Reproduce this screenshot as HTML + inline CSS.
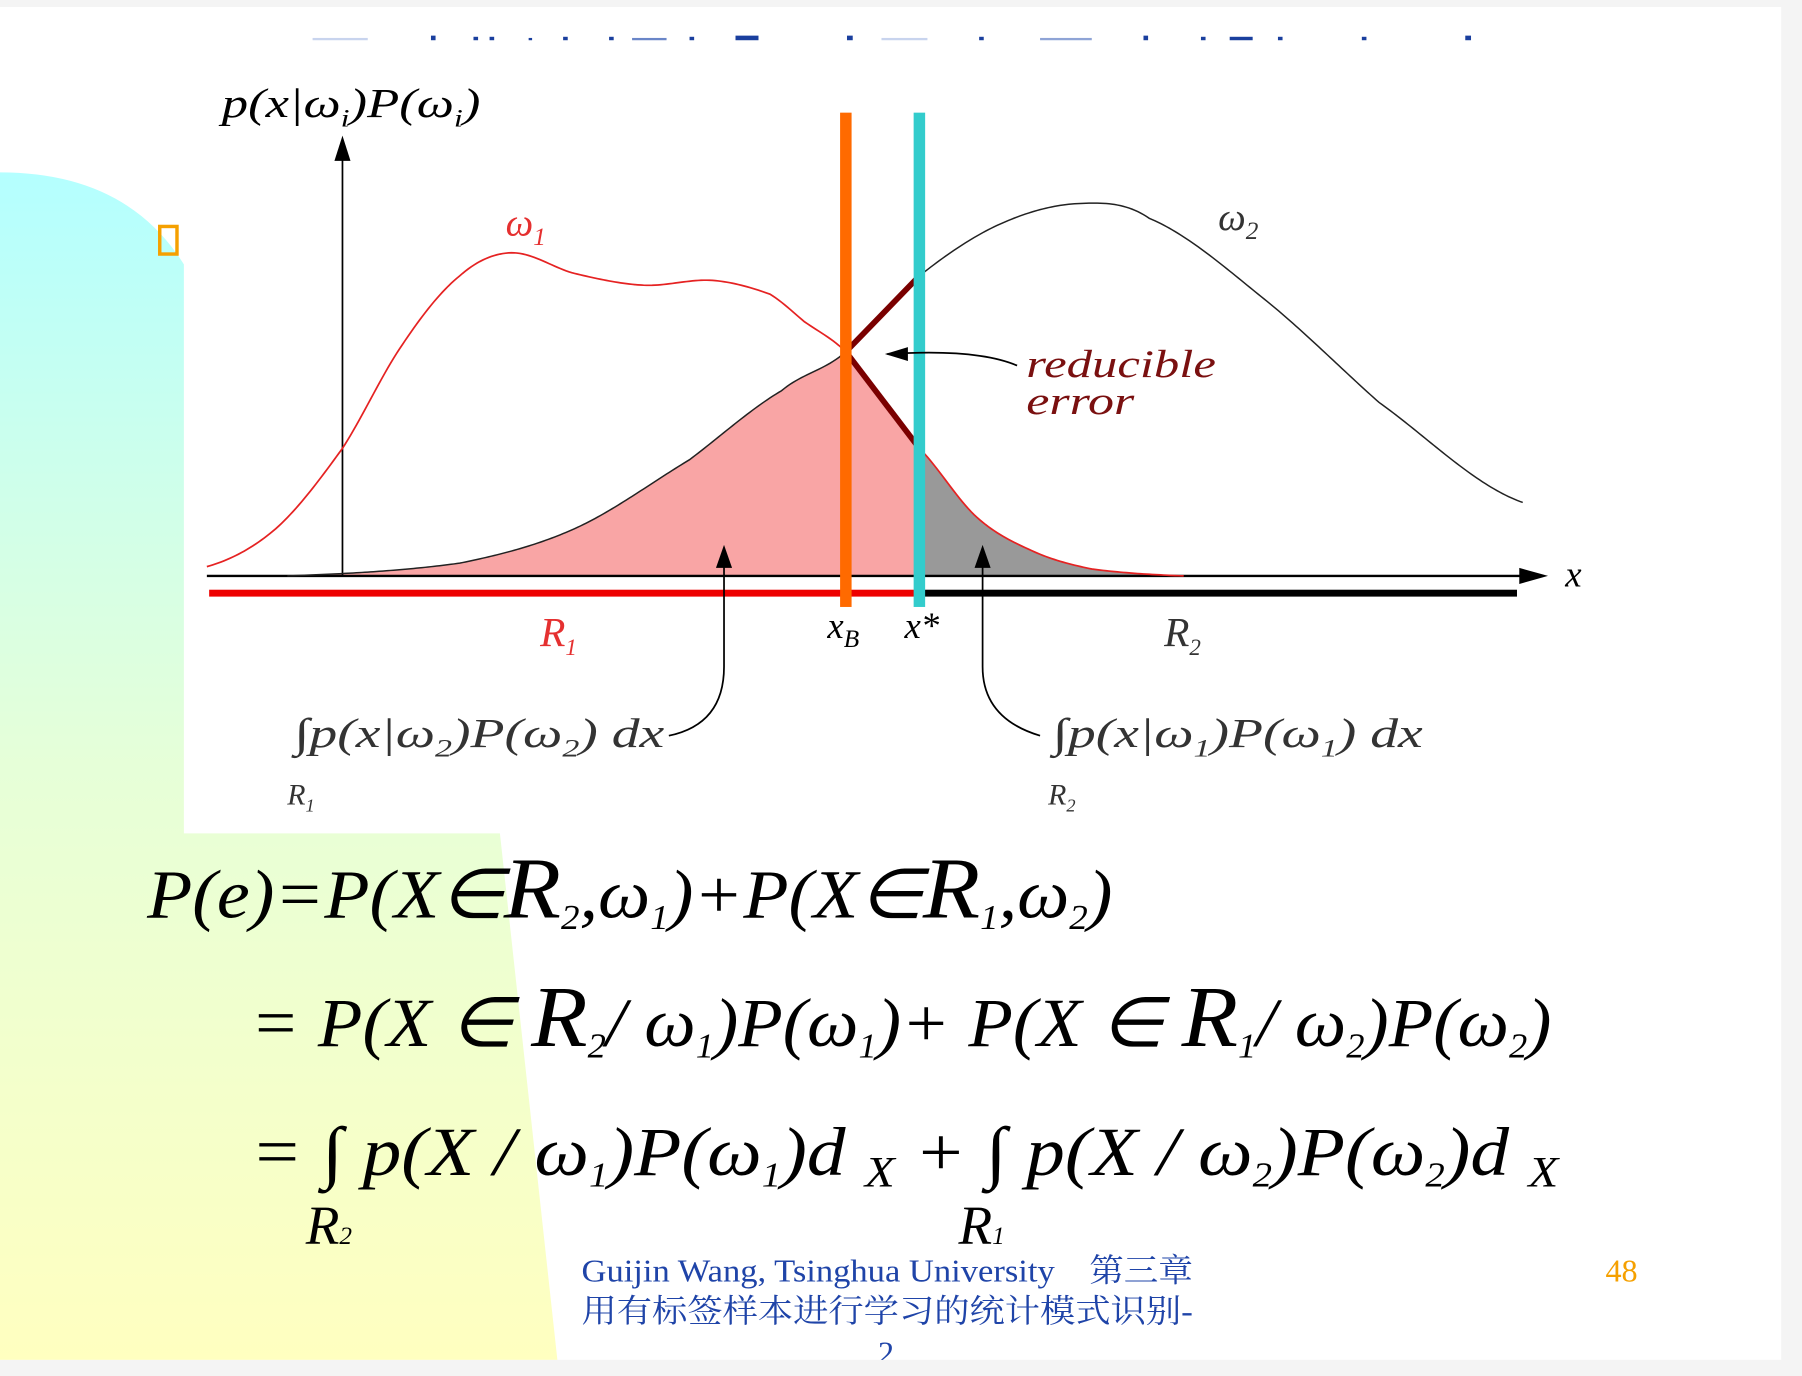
<!DOCTYPE html>
<html><head><meta charset="utf-8"><style>
html,body{margin:0;padding:0;background:#f4f4f4;}
svg{display:block;}
.m{font-family:"Liberation Serif",serif;font-style:italic;}
</style></head><body>
<svg width="1802" height="1376" viewBox="0 0 1568 1197" preserveAspectRatio="none" xmlns="http://www.w3.org/2000/svg">
<defs>
<linearGradient id="bg" x1="0" y1="0" x2="0" y2="1">
<stop offset="0" stop-color="#b4ffff"/><stop offset="0.5" stop-color="#e6ffd8"/><stop offset="1" stop-color="#ffffc0"/>
</linearGradient>
</defs>
<rect x="0" y="6" width="1550" height="1177" fill="#fff"/>
<path d="M0 150 Q110 150 160 230 L160 725 L435 725 L485 1183 L0 1183 Z" fill="url(#bg)"/>
<g fill="#1a3f9e">
<rect x="272" y="33" width="48" height="2" fill="#c8d4ee"/><rect x="375" y="31" width="4" height="4"/><rect x="412" y="32" width="4" height="3"/><rect x="426" y="32" width="4" height="3"/><rect x="460" y="33" width="3" height="2"/><rect x="490" y="32" width="4" height="3"/><rect x="530" y="32" width="4" height="3"/><rect x="550" y="33" width="30" height="2" fill="#6a86c8"/><rect x="600" y="32" width="4" height="3"/><rect x="640" y="31" width="20" height="4"/><rect x="737" y="31" width="5" height="4"/><rect x="767" y="33" width="40" height="2" fill="#c8d4ee"/><rect x="852" y="32" width="4" height="3"/><rect x="905" y="33" width="45" height="2" fill="#8fa4d6"/><rect x="995" y="31" width="4" height="4"/><rect x="1045" y="32" width="4" height="3"/><rect x="1070" y="32" width="20" height="3"/><rect x="1112" y="32" width="4" height="3"/><rect x="1185" y="32" width="4" height="3"/><rect x="1275" y="31" width="5" height="4"/>
</g>
<rect x="139" y="197" width="15" height="24" fill="none" stroke="#f5a000" stroke-width="3"/>
<g id="chart"></g>
<text class="m" x="193" y="102" font-size="36" textLength="225" lengthAdjust="spacingAndGlyphs">p(x|ω<tspan font-size="22" dy="8">i</tspan><tspan dy="-8">)P(ω</tspan><tspan font-size="22" dy="8">i</tspan><tspan dy="-8">)</tspan></text>
<text class="m" x="440" y="205" font-size="34" fill="#e53030">ω<tspan font-size="22" dy="8">1</tspan></text>
<text class="m" x="1060" y="200" font-size="34" fill="#333">ω<tspan font-size="22" dy="8">2</tspan></text>
<text class="m" x="893" y="328" font-size="34" fill="#7a1010" textLength="165" lengthAdjust="spacingAndGlyphs">reducible</text>
<text class="m" x="893" y="360" font-size="34" fill="#7a1010" textLength="94" lengthAdjust="spacingAndGlyphs">error</text>
<path d="M885 318 Q850 303 772 308" fill="none" stroke="#000" stroke-width="1.5"/>
<path d="M770 308 L790 302 L790 314 Z" fill="#000"/>
<text class="m" x="1362" y="510" font-size="32">x</text>
<text class="m" x="720" y="555" font-size="32">x<tspan font-size="22" dy="8">B</tspan></text>
<text class="m" x="787" y="555" font-size="32">x*</text>
<text class="m" x="470" y="562" font-size="36" fill="#e53030">R<tspan font-size="20" dy="8">1</tspan></text>
<text class="m" x="1013" y="562" font-size="36" fill="#333">R<tspan font-size="20" dy="8">2</tspan></text>
<text class="m" x="256" y="650" font-size="36" fill="#333" textLength="322" lengthAdjust="spacingAndGlyphs">∫p(x|ω<tspan font-size="22" dy="8">2</tspan><tspan dy="-8">)P(ω</tspan><tspan font-size="22" dy="8">2</tspan><tspan dy="-8">) dx</tspan></text>
<text class="m" x="250" y="700" font-size="26" fill="#333">R<tspan font-size="16" dy="6">1</tspan></text>
<text class="m" x="916" y="650" font-size="36" fill="#333" textLength="322" lengthAdjust="spacingAndGlyphs">∫p(x|ω<tspan font-size="22" dy="8">1</tspan><tspan dy="-8">)P(ω</tspan><tspan font-size="22" dy="8">1</tspan><tspan dy="-8">) dx</tspan></text>
<text class="m" x="912" y="700" font-size="26" fill="#333">R<tspan font-size="16" dy="6">2</tspan></text>
<path d="M582 640 Q630 630 630 580 L630 490" fill="none" stroke="#000" stroke-width="1.5"/>
<path d="M630 474 L623 494 L637 494 Z" fill="#000"/>
<path d="M905 640 Q855 625 855 580 L855 490" fill="none" stroke="#000" stroke-width="1.5"/>
<path d="M855 474 L848 494 L862 494 Z" fill="#000"/>
<g class="m" font-size="60">
<text x="128" y="798" textLength="840" lengthAdjust="spacingAndGlyphs">P(e)=P(X∈<tspan font-size="76">R</tspan><tspan font-size="30" dy="10">2</tspan><tspan dy="-10">,ω</tspan><tspan font-size="30" dy="10">1</tspan><tspan dy="-10">)+P(X∈</tspan><tspan font-size="76">R</tspan><tspan font-size="30" dy="10">1</tspan><tspan dy="-10">,ω</tspan><tspan font-size="30" dy="10">2</tspan><tspan dy="-10">)</tspan></text>
<text x="218" y="910" textLength="1132" lengthAdjust="spacingAndGlyphs">= P(X ∈ <tspan font-size="76">R</tspan><tspan font-size="30" dy="10">2</tspan><tspan dy="-10">/ ω</tspan><tspan font-size="30" dy="10">1</tspan><tspan dy="-10">)P(ω</tspan><tspan font-size="30" dy="10">1</tspan><tspan dy="-10">)+ P(X ∈ </tspan><tspan font-size="76">R</tspan><tspan font-size="30" dy="10">1</tspan><tspan dy="-10">/ ω</tspan><tspan font-size="30" dy="10">2</tspan><tspan dy="-10">)P(ω</tspan><tspan font-size="30" dy="10">2</tspan><tspan dy="-10">)</tspan></text>
<text x="218" y="1022" textLength="1138" lengthAdjust="spacingAndGlyphs">= ∫ p(X / ω<tspan font-size="30" dy="10">1</tspan><tspan dy="-10">)P(ω</tspan><tspan font-size="30" dy="10">1</tspan><tspan dy="-10">)d </tspan><tspan font-size="38" dy="10">X</tspan><tspan dy="-10"> + ∫ p(X / ω</tspan><tspan font-size="30" dy="10">2</tspan><tspan dy="-10">)P(ω</tspan><tspan font-size="30" dy="10">2</tspan><tspan dy="-10">)d </tspan><tspan font-size="38" dy="10">X</tspan></text>
<text x="266" y="1082" font-size="48">R<tspan font-size="22">2</tspan></text>
<text x="834" y="1082" font-size="48">R<tspan font-size="22">1</tspan></text>
</g>
<g font-family="'Liberation Serif','Noto Serif CJK SC',serif" fill="#1f44a8" font-size="28">
<text x="506" y="1115" textLength="532" lengthAdjust="spacingAndGlyphs">Guijin Wang, Tsinghua University　第三章</text>
<text x="506" y="1150" textLength="532" lengthAdjust="spacingAndGlyphs">用有标签样本进行学习的统计模式识别-</text>
<text x="764" y="1186">2</text>
</g>
<text x="1397" y="1115" font-family="'Liberation Serif',serif" font-size="28" fill="#f5a000">48</text>
<rect x="0" y="1183" width="1568" height="14" fill="#f4f4f4"/>
<rect x="1550" y="0" width="18" height="1197" fill="#f4f4f4"/>
<rect x="0" y="0" width="1568" height="6" fill="#f4f4f4"/>
</svg>
<script>
const w1X=[0,6,11.8,17,22,26.5,32,38,44,49,52,55.6,59,62,67,72,77,85];
const w1Y=[2.7,13.7,37,67,87,93.7,87.7,84.3,85.7,81.7,73.7,65,50.3,37,17,7,2,0];
const w2X=[7,22,32,42,50,55.6,62,69,76,82,92,102,114.5];
const w2Y=[0,3.7,13.7,33.7,53.7,65,87,102,108,103.7,80.3,50.3,21.3];
const xB=55.6, xStar=62;
const sx=v=>180+v*10, sy=v=>501-v*3;
const NS="http://www.w3.org/2000/svg";
const g=document.getElementById('chart');
function interp(xs,ys,x){
  if(x<=xs[0])return ys[0]; if(x>=xs[xs.length-1])return ys[ys.length-1];
  let i=0;while(xs[i+1]<x)i++;
  const p0=ys[Math.max(i-1,0)],p1=ys[i],p2=ys[i+1],p3=ys[Math.min(i+2,ys.length-1)];
  const t=(x-xs[i])/(xs[i+1]-xs[i]);
  return Math.max(0,0.5*((2*p1)+(-p0+p2)*t+(2*p0-5*p1+4*p2-p3)*t*t+(-p0+3*p1-3*p2+p3)*t*t*t));
}
function pts(xs,ys,a,b){const r=[];for(let x=a;x<=b+1e-6;x+=0.25)r.push([sx(x),sy(interp(xs,ys,x))]);return r;}
function el(tag,attrs){const e=document.createElementNS(NS,tag);for(const k in attrs)e.setAttribute(k,attrs[k]);g.appendChild(e);return e;}
let pk=pts(w2X,w2Y,w2X[0],xB).concat(pts(w1X,w1Y,xB,xStar));
let a=el('polygon',{points:pk.map(p=>p.join(',')).join(' ')+` ${sx(xStar)},${sy(0)} ${sx(w2X[0])},${sy(0)}`,fill:'#f9a5a5'});


let gy=pts(w1X,w1Y,xStar,w1X[w1X.length-1]);
let b=el('polygon',{points:gy.map(p=>p.join(',')).join(' ')+` ${sx(xStar)},${sy(0)}`,fill:'#999'});


let ax=el('line',{x1:180,y1:sy(0),x2:1325,y2:sy(0),stroke:'#000','stroke-width':2});


el('path',{d:'M1347 501 L1322 494 L1322 508 Z',fill:'#000'});
let ay=el('line',{x1:298,y1:sy(0),x2:298,y2:135,stroke:'#000','stroke-width':1.5});


el('path',{d:'M298 118 L291 140 L305 140 Z',fill:'#000'});
let c1=el('polyline',{points:pts(w1X,w1Y,w1X[0],w1X[w1X.length-1]).map(p=>p.join(',')).join(' '),fill:'none',stroke:'#e52222','stroke-width':1.5});


let c2=el('polyline',{points:pts(w2X,w2Y,w2X[0],w2X[w2X.length-1]).map(p=>p.join(',')).join(' '),fill:'none',stroke:'#222','stroke-width':1.3});


const yb=interp(w1X,w1Y,xB);
let r1=el('line',{x1:sx(xB),y1:sy(yb),x2:sx(xStar),y2:sy(interp(w2X,w2Y,xStar)),stroke:'#7a0000','stroke-width':5});


let r2=el('line',{x1:sx(xB),y1:sy(yb),x2:sx(xStar),y2:sy(interp(w1X,w1Y,xStar)),stroke:'#7a0000','stroke-width':5});


let rb1=el('rect',{x:182,y:513,width:sx(xStar)-182,height:6,fill:'#ee0000'});


let rb2=el('rect',{x:sx(xStar),y:513,width:1320-sx(xStar),height:6,fill:'#000'});


let vb=el('rect',{x:sx(xB)-5,y:98,width:10,height:430,fill:'#ff6a00'});


let vs=el('rect',{x:sx(xStar)-5,y:98,width:10,height:430,fill:'#33cccc'});


</script>
</body></html>
